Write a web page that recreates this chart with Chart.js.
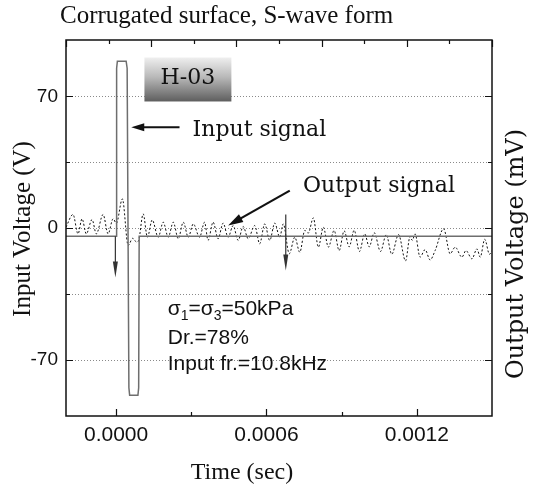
<!DOCTYPE html>
<html><head><meta charset="utf-8">
<script src="https://cdn.jsdelivr.net/npm/chart.js@4.4.1/dist/chart.umd.min.js"></script>
<style>html,body{margin:0;padding:0;background:#fff;} #wrap{width:535px;height:487px;position:relative;}</style>
</head><body><div id="wrap"><canvas id="c" width="535" height="487"></canvas></div>
<script>
// ---- data ----
const timeRange = [-0.0002, 0.0015];
const voltRange = [-100, 100];
const xTickValues = [0, 0.0003, 0.0006, 0.0009, 0.0012];
const xTickLabels = ['0.0000', '', '0.0006', '', '0.0012'];
const yTickValues = [-70, -35, 0, 35, 70];
const yTickLabels = ['-70', '', '0', '', '70'];
const topDivisions = [0, 1, 2, 3, 4, 5, 6, 7, 8, 9, 10];

const inputTimeUs = [-200, 0, 2, 5, 40, 44, 51, 54, 87, 90, 92, 1500];
const inputVolt   = [-4.4, -4.4, 85, 88.7, 88.7, 85, -85, -89, -89, -85, -4.4, -4.4];

const outputTimeUs = [-200, -172, -152, -136, -119, -96, -79, -52, -32, -12, 1, 25, 48, 66, 82, 90, 108, 125, 144, 168, 188, 208, 228, 248, 268, 288, 308,
  333, 353, 367, 387, 407, 427, 447, 467, 487, 507, 527, 553, 573, 593, 613, 633, 653, 667,
  691, 713, 733, 753, 767, 787, 807, 827, 847, 870, 890, 910, 930, 950, 971, 992, 1010, 1030, 1055, 1078, 1100, 1127, 1155, 1173, 1182, 1193,
  1213, 1233, 1253, 1273, 1307, 1333, 1353, 1380, 1396, 1420, 1440, 1453, 1471, 1490, 1500];
const outputVolt = [0.5, 7.2, -3.1, 4.9, -3.1, 4.5, -3.1, 7.2, -3.1, 4.9, 2.5, 15.5, -9.3, -5.5, -7.5, -6.6, 7.5, -4.9, 4.3, -4.9, 3.1, -4.9, 3.1, -5.7, 3.1, -4.9, 2.2,
  -4.9, 3.1, -6.6, 3.1, -5.7, 2.6, -4.9, 1.3, -6.6, 0.8, -5.7, 1.3, -8.4, 2.2, -6.6, 2.6, -4.9, 2.2,
  -13.7, -4.9, -12.9, -1.3, -2.7, 5.4, -10.2, 0.4, -10.2, -1.3, -12.0, -1.5, -10.0, -1.2, -12.5, -3.1, -10.0, -2.5, -12.5, -3.5, -14.0, -3.5, -17.5, -4.5, -6.6, -3.1,
  -15.5, -11.5, -17.0, -12.0, -0.4, -13.7, -10.2, -15.5, -12.0, -16.4, -11.1, -15.5, -6.0, -14.0, -12.0];

// annotation anchors in data units (time s, voltage)
const notes = {
  box: {t0: 0.000113, t1: 0.00046, v0: 90.7, v1: 67.3, text: 'H-03'},
  inputArrow: {tTail: 0.000253, tTip: 0.0000605, v: 53.6},
  inputText: {t: 0.000305, v: 49.2, text: 'Input signal'},
  outputArrow: {tTail: 0.000693, vTail: 19.9, tTip: 0.000447, vTip: 1.3},
  outputText: {t: 0.000746, v: 18.9, text: 'Output signal'},
  down1: {t: -0.000003, v0: -4.4, v1: -26.3},
  down2: {t: 0.000677, v0: 7.2, v1: -22.6},
  stats: {t: 0.000206, v: [-46.5, -61.6, -75.4]}
};

const toPts = (ts, vs) => ts.map((t, i) => ({x: t * 1e-6, y: vs[i]}));

function arrow(ctx, x1, y1, x2, y2, headLen, headHalf, lw) {
  const ang = Math.atan2(y2 - y1, x2 - x1);
  const c = Math.cos(ang), s = Math.sin(ang);
  const bx = x2 - headLen * c, by = y2 - headLen * s;
  ctx.lineWidth = lw;
  ctx.beginPath(); ctx.moveTo(x1, y1); ctx.lineTo(bx + c, by + s); ctx.stroke();
  ctx.beginPath(); ctx.moveTo(x2, y2);
  ctx.lineTo(bx + headHalf * s, by - headHalf * c);
  ctx.lineTo(bx - headHalf * s, by + headHalf * c);
  ctx.closePath(); ctx.fill();
}

const decor = {
  id: 'decor',
  beforeDatasetsDraw(chart) {
    const {ctx, chartArea: a, scales} = chart;
    ctx.save();
    ctx.strokeStyle = '#8a8a8a'; ctx.lineWidth = 1; ctx.setLineDash([1, 2]);
    yTickValues.forEach(v => {
      const py = Math.round(scales.y.getPixelForValue(v)) + 0.5;
      ctx.beginPath(); ctx.moveTo(a.left, py); ctx.lineTo(a.right, py); ctx.stroke();
    });
    ctx.restore();
  },
  afterDatasetsDraw(chart) {
    const {ctx, chartArea: a, scales} = chart;
    const X = v => scales.x.getPixelForValue(v), Y = v => scales.y.getPixelForValue(v);
    ctx.save();
    // frame
    ctx.strokeStyle = '#111'; ctx.lineWidth = 1.5; ctx.setLineDash([]);
    ctx.strokeRect(a.left, a.top, a.right - a.left, a.bottom - a.top);
    // ticks
    ctx.lineWidth = 1.2;
    ctx.beginPath();
    yTickValues.forEach((v, i) => {
      const py = Math.round(Y(v)) + 0.5, len = yTickLabels[i] ? 7 : 4;
      ctx.moveTo(a.left, py); ctx.lineTo(a.left + len, py);
      ctx.moveTo(a.right, py); ctx.lineTo(a.right - len, py);
    });
    xTickValues.forEach((v, i) => {
      const px = Math.round(X(v)) + 0.5, len = xTickLabels[i] ? 7 : 4;
      ctx.moveTo(px, a.bottom); ctx.lineTo(px, a.bottom - len);
    });
    topDivisions.forEach(k => {
      const px = Math.round(scales.x2.getPixelForValue(k)) + 0.5, len = k % 2 === 0 ? 7 : 4;
      ctx.moveTo(px, a.top); ctx.lineTo(px, a.top + len);
    });
    ctx.stroke();

    // H-03 box
    const b = notes.box;
    const bx0 = X(b.t0), bx1 = X(b.t1), by0 = Y(b.v0), by1 = Y(b.v1);
    const g = ctx.createLinearGradient(0, by0, 0, by1);
    g.addColorStop(0, '#efefef'); g.addColorStop(0.45, '#b8b8b8'); g.addColorStop(1, '#5e5e5e');
    ctx.fillStyle = g; ctx.fillRect(bx0, by0, bx1 - bx0, by1 - by0);
    ctx.fillStyle = '#111'; ctx.font = '22px "DejaVu Serif"'; ctx.textAlign = 'center'; ctx.textBaseline = 'alphabetic';
    ctx.fillText(b.text, (bx0 + bx1) / 2, by0 + 27);

    // arrows
    ctx.fillStyle = '#111'; ctx.strokeStyle = '#111';
    const ia = notes.inputArrow;
    arrow(ctx, X(ia.tTail), Y(ia.v), X(ia.tTip), Y(ia.v), 13, 4, 2.2);
    const oa = notes.outputArrow;
    arrow(ctx, X(oa.tTail), Y(oa.vTail), X(oa.tTip), Y(oa.vTip), 15, 4.5, 2.2);
    ctx.fillStyle = '#333'; ctx.strokeStyle = '#333';
    [notes.down1, notes.down2].forEach(d => arrow(ctx, X(d.t), Y(d.v0), X(d.t), Y(d.v1), 16, 2.5, 1.2));

    // texts
    ctx.fillStyle = '#111'; ctx.textAlign = 'left'; ctx.textBaseline = 'alphabetic';
    ctx.font = '22px "DejaVu Serif"';
    ctx.fillText(notes.inputText.text, X(notes.inputText.t), Y(notes.inputText.v));
    ctx.fillText(notes.outputText.text, X(notes.outputText.t), Y(notes.outputText.v));

    // stats (with subscripts)
    const sx = X(notes.stats.t), sv = notes.stats.v.map(Y);
    const big = '21px "Liberation Sans"', small = '14px "Liberation Sans"';
    let cx = sx;
    const seg = (txt, font, dy) => { ctx.font = font; ctx.fillText(txt, cx, sv[0] + dy); cx += ctx.measureText(txt).width; };
    seg('σ', big, 0); seg('1', small, 5); seg('=σ', big, 0); seg('3', small, 5); seg('=50kPa', big, 0);
    ctx.font = big;
    ctx.fillText('Dr.=78%', sx, sv[1]);
    ctx.fillText('Input fr.=10.8kHz', sx, sv[2]);

    // chart title and axis titles
    ctx.font = '25px "Liberation Serif"'; ctx.textAlign = 'left';
    ctx.fillText('Corrugated surface, S-wave form', 60, 23);
    ctx.textAlign = 'center';
    ctx.font = '24px "Liberation Serif"';
    ctx.fillText('Time (sec)', 242, 479);
    ctx.save(); ctx.translate(30, 229); ctx.rotate(-Math.PI / 2);
    ctx.font = '25px "Liberation Serif"'; ctx.fillText('Input Voltage (V)', 0, 0); ctx.restore();
    ctx.save(); ctx.translate(523, 254); ctx.rotate(-Math.PI / 2);
    ctx.font = '24px "DejaVu Serif"'; ctx.fillText('Output Voltage (mV)', 0, 0); ctx.restore();
    ctx.restore();
  }
};

const noGrid = {display: false, drawTicks: false};
new Chart(document.getElementById('c'), {
  type: 'line',
  data: {
    datasets: [
      {label: 'Input signal', data: toPts(inputTimeUs, inputVolt), xAxisID: 'x', yAxisID: 'y',
       borderColor: '#6e6e6e', borderWidth: 1.5, pointRadius: 0, tension: 0, fill: false},
      {label: 'Output signal', data: toPts(outputTimeUs, outputVolt), xAxisID: 'x', yAxisID: 'y2',
       borderColor: '#111', borderWidth: 1, borderDash: [2, 2], pointRadius: 0, cubicInterpolationMode: 'monotone', fill: false}
    ]
  },
  options: {
    responsive: false, animation: false, devicePixelRatio: 1,
    layout: {padding: 0},
    plugins: {legend: {display: false}, tooltip: {enabled: false}, title: {display: false}},
    scales: {
      x: {type: 'linear', position: 'bottom', min: timeRange[0], max: timeRange[1],
          afterBuildTicks: s => { s.ticks = xTickValues.map(v => ({value: v})); },
          afterFit: s => { s.height = 71; },
          ticks: {autoSkip: false, maxRotation: 0, padding: 7, color: '#111',
                  font: {family: 'Liberation Sans', size: 21},
                  callback: (v, i) => xTickLabels[i]},
          grid: noGrid, border: {display: false}},
      x2: {type: 'linear', position: 'top', min: topDivisions[0], max: topDivisions[topDivisions.length - 1],
           afterFit: s => { s.height = 40; }, ticks: {display: false}, grid: noGrid, border: {display: false}},
      y: {type: 'linear', position: 'left', min: voltRange[0], max: voltRange[1],
          afterBuildTicks: s => { s.ticks = yTickValues.map(v => ({value: v})); },
          afterFit: s => { s.width = 66; },
          ticks: {autoSkip: false, padding: 8, color: '#111',
                  font: {family: 'Liberation Sans', size: 19},
                  callback: (v, i) => yTickLabels[i]},
          grid: noGrid, border: {display: false}},
      y2: {type: 'linear', position: 'right', min: voltRange[0], max: voltRange[1],
           afterFit: s => { s.width = 43; }, ticks: {display: false}, grid: noGrid, border: {display: false}}
    }
  },
  plugins: [decor]
});
</script></body></html>
